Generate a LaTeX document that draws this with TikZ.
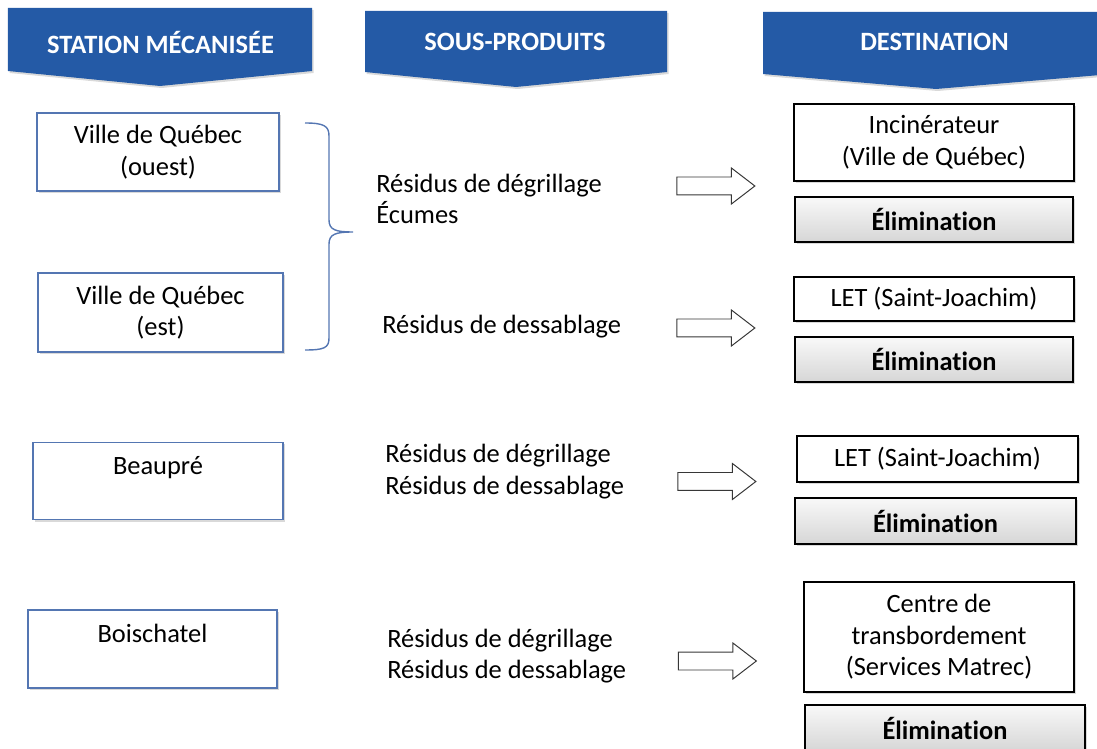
\documentclass[tikz,border=0pt]{standalone}
\usepackage{fontspec}
\setmainfont{Carlito}[Ligatures=NoCommon]
\usepackage{tikz}
\usetikzlibrary{positioning,shapes.arrows,shadows}
\definecolor{bleuf}{RGB}{36,90,166}
\definecolor{bleuc}{RGB}{84,118,178}
\definecolor{grisf}{RGB}{55,55,55}

\begin{document}
\begin{tikzpicture}[x=1cm, y=1cm,
  font=\fontsize{18.8}{22.5}\selectfont,
  ombre/.style={drop shadow={opacity=0.3, shadow xshift=0.04cm, shadow yshift=-0.05cm}},
  ban/.style={fill=bleuf, ombre},
  titre/.style={text=white, font=\fontsize{18.8}{22.5}\selectfont\bfseries},
  st/.style 2 args={rectangle, draw=bleuc, line width=1pt, fill=white, ombre,
                    minimum width=#1, minimum height=#2, align=center, inner sep=0pt},
  de/.style 2 args={rectangle, draw=black, line width=0.9pt, fill=white, ombre,
                    minimum width=#1, minimum height=#2, align=center, inner sep=0pt},
  el/.style={rectangle, draw=black, line width=0.9pt, top color=gray!5, bottom color=gray!32,
             ombre, minimum width=6.95cm, minimum height=1.125cm, inner sep=0pt,
             font=\fontsize{18.8}{22.5}\selectfont\bfseries},
  sp/.style={anchor=west, align=left, inner sep=0pt},
  fl/.style={single arrow, draw=grisf, line width=0.7pt, fill=white,
             inner xsep=0pt, inner ysep=0.2125cm,
             minimum height=1.95cm, minimum width=0.875cm,
             single arrow head extend=0.225cm, single arrow tip angle=75}]

\useasboundingbox (0,0) rectangle (27.425,18.7);
\clip (0,0) rectangle (27.425,18.7);

% ── bandeaux ──
\fill[ban] (0.2,18.5) -- (7.8,18.5) -- (7.8,16.925) -- (4.0,16.55) -- (0.2,16.925) -- cycle;
\fill[ban] (9.125,18.425) -- (16.675,18.425) -- (16.675,16.9) -- (12.9,16.525) -- (9.125,16.9) -- cycle;
\fill[ban] (19.075,18.4) -- (27.8,18.4) -- (27.8,16.85) -- (23.4,16.475) -- (19.075,16.85) -- cycle;
\node[titre] (hStation) at (4.0125, 17.65) {STATION MÉCANISÉE};
\node[titre] (hSous) at (12.875, 17.65) {SOUS-PRODUITS};
\node[titre] (hDest) at (23.3625, 17.65) {DESTINATION};

% ── stations ──
\node[st={6.05cm}{1.95cm}] (sOuest) at (3.95, 14.9) {Ville de Québec\\ (ouest)};
\node[st={6.125cm}{1.975cm}] (sEst) at (4.0125, 10.8875) {Ville de Québec\\ (est)};
\node[st={6.25cm}{1.925cm}] (sBeaupre) at (3.95, 6.675) {Beaupré\\ \mbox{}};
\node[st={6.225cm}{1.95cm}] (sBoischatel) at (3.8125, 2.475) {Boischatel\\ \mbox{}};

% accolade Québec ouest/est
\draw[bleuc, line width=1pt] (7.625,15.625) .. controls (8.1,15.625) and (8.225,15.55) .. (8.225,15.3)
  -- (8.225,13.2) .. controls (8.225,12.95) and (8.4,12.9) .. (8.825,12.9)
  .. controls (8.4,12.9) and (8.225,12.85) .. (8.225,12.6)
  -- (8.225,10.25) .. controls (8.225,10.0) and (8.1,9.95) .. (7.625,9.95);

% ── sous-produits ──
\node[sp] (pQc1) at (9.4, 13.725) {Résidus de dégrillage\\ Écumes};
\node[sp] (pQc2) at (9.55, 10.525) {Résidus de dessablage};
\node[sp] (pBeaupre) at (9.625, 6.9125) {Résidus de dégrillage\\ Résidus de dessablage};
\node[sp] (pBoischatel) at (9.675, 2.3) {Résidus de dégrillage\\ Résidus de dessablage};

% ── flèches ──
\node[fl] (fl1) at (17.75, 14.05) {};
\node[fl] (fl2) at (17.75, 10.5) {};
\node[fl] (fl3) at (17.775, 6.6625) {};
\node[fl] (fl4) at (17.7875, 2.175) {};

% ── destinations ──
\node[de={7cm}{1.925cm}] (dInc) at (23.35, 15.1375) {Incinérateur\\ (Ville de Québec)};
\node[el] (eInc) at (23.35, 13.2125) {Élimination};
\node[de={7cm}{1.1cm}] (dLet) at (23.35, 11.225) {LET (Saint-Joachim)};
\node[el] (eLet) at (23.35, 9.7125) {Élimination};
\node[de={7.025cm}{1.15cm}] (dLet2) at (23.4375, 7.225) {LET (Saint-Joachim)};
\node[el, minimum width=7.025cm, minimum height=1.15cm] (eLet2) at (23.3875, 5.675) {Élimination};
\node[de={6.75cm}{2.75cm}] (dMatrec) at (23.475, 2.775) {Centre de\\ transbordement\\ (Services Matrec)};
\node[el, minimum width=7cm, minimum height=1.15cm] (eMatrec) at (23.625, 0.5) {Élimination};

\end{tikzpicture}
\end{document}
